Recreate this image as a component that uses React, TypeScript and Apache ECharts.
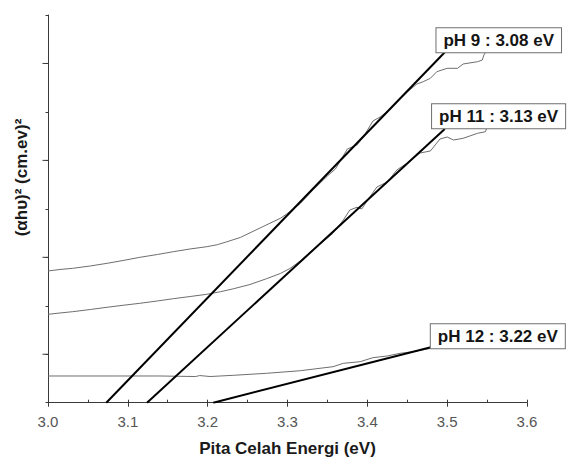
import React, { useEffect, useRef } from 'react';
import * as echarts from 'echarts';

// x axis: photon energy (eV)
const xMin = 3.0;
const xMax = 3.6;
const xInterval = 0.1;

// y axis (no numeric labels in the source)
const yMin = 0;
const yMax = 8;
const yMajorTicks = [1, 3, 5, 7];

// measured Tauc curves
const pH9X = [3.000, 3.015, 3.031, 3.053, 3.074, 3.094, 3.115, 3.137, 3.157, 3.178, 3.199, 3.212, 3.224, 3.241, 3.253, 3.269, 3.291, 3.299, 3.316, 3.332, 3.350, 3.360, 3.375, 3.387, 3.395, 3.407, 3.416, 3.429, 3.441, 3.450, 3.462, 3.470, 3.479, 3.487, 3.500, 3.513, 3.520, 3.538, 3.544, 3.546, 3.550];
const pH9Y = [2.718, 2.749, 2.773, 2.821, 2.876, 2.934, 3.000, 3.058, 3.116, 3.172, 3.219, 3.260, 3.320, 3.410, 3.505, 3.632, 3.805, 3.894, 4.110, 4.389, 4.678, 4.822, 5.235, 5.318, 5.483, 5.813, 5.895, 6.060, 6.267, 6.411, 6.576, 6.624, 6.694, 6.830, 6.900, 6.900, 6.989, 7.036, 7.071, 7.175, 7.278];

const pH11X = [3.000, 3.015, 3.031, 3.053, 3.074, 3.094, 3.115, 3.137, 3.157, 3.178, 3.199, 3.216, 3.232, 3.253, 3.274, 3.291, 3.303, 3.316, 3.328, 3.337, 3.357, 3.370, 3.378, 3.387, 3.393, 3.403, 3.412, 3.425, 3.437, 3.450, 3.466, 3.479, 3.491, 3.500, 3.508, 3.520, 3.538, 3.548, 3.550];
const pH11Y = [1.824, 1.851, 1.878, 1.923, 1.969, 2.010, 2.051, 2.099, 2.146, 2.191, 2.237, 2.290, 2.350, 2.439, 2.560, 2.666, 2.769, 2.924, 3.099, 3.219, 3.496, 3.770, 3.976, 4.032, 3.997, 4.245, 4.451, 4.554, 4.802, 4.946, 5.152, 5.194, 5.441, 5.483, 5.421, 5.456, 5.559, 5.592, 5.689];

const pH12X = [3.000, 3.040, 3.090, 3.140, 3.185, 3.190, 3.203, 3.232, 3.274, 3.316, 3.357, 3.370, 3.391, 3.407, 3.425, 3.441, 3.457, 3.480];
const pH12Y = [0.551, 0.551, 0.551, 0.551, 0.540, 0.560, 0.540, 0.565, 0.607, 0.660, 0.743, 0.813, 0.846, 0.929, 0.964, 1.019, 1.052, 1.123];

// tangent (extrapolation) lines
const tan9X = [3.073, 3.497];
const tan9Y = [0, 7.231];
const tan11X = [3.124, 3.497];
const tan11Y = [0, 5.648];
const tan12X = [3.207, 3.482];
const tan12Y = [0, 1.156];

const bandGapLabels = ['pH 9 : 3.08 eV', 'pH 11 : 3.13 eV', 'pH 12 : 3.22 eV'];

const FONT = '"Liberation Sans", Arial, Helvetica, sans-serif';

const zip = (xs: number[], ys: number[]) => xs.map((x, i) => [x, ys[i]]);

export default function App() {
  const ref = useRef<HTMLDivElement>(null);

  useEffect(() => {
    if (!ref.current) return;
    const chart = echarts.init(ref.current, undefined, { renderer: 'svg' });

    const curveStyle = { color: '#6e6e6e', width: 1 };
    const tanLabel = (text: string, offset: number[]) => ({
      show: true,
      formatter: text,
      align: 'left',
      verticalAlign: 'bottom',
      distance: 0,
      offset,
      backgroundColor: '#ffffff',
      borderColor: '#6f6f6f',
      borderWidth: 1,
      padding: [3, 7, 3, 7],
      fontSize: 17,
      lineHeight: 18,
      fontWeight: 'bold',
      fontFamily: FONT,
      color: '#151515',
    });

    const curve = (name: string, xs: number[], ys: number[]) => ({
      name,
      type: 'line',
      data: zip(xs, ys),
      showSymbol: false,
      symbol: 'none',
      lineStyle: curveStyle,
      z: 2,
      silent: true,
    });

    const tangent = (name: string, xs: number[], ys: number[], label: string, offset: number[]) => ({
      name,
      type: 'line',
      data: zip(xs, ys),
      showSymbol: false,
      symbol: 'none',
      lineStyle: { color: '#000000', width: 2 },
      endLabel: tanLabel(label, offset),
      z: 3,
      silent: true,
    });

    chart.setOption({
      animation: false,
      backgroundColor: '#ffffff',
      grid: {
        left: 48,
        right: 41,
        top: 15,
        bottom: 57.3,
        containLabel: false,
        outerBoundsMode: 'none',
      },
      xAxis: [
        {
          type: 'value',
          min: xMin,
          max: xMax,
          interval: xInterval,
          axisLine: { show: true, lineStyle: { color: '#3a3a3a', width: 1 } },
          axisTick: { show: true, inside: false, length: 4, lineStyle: { color: '#3a3a3a' } },
          axisLabel: {
            show: true,
            margin: 11,
            color: '#555555',
            fontSize: 15,
            fontFamily: FONT,
            formatter: (v: number) => v.toFixed(1),
          },
          splitLine: { show: false },
          name: 'Pita Celah Energi (eV)',
          nameLocation: 'middle',
          nameGap: 37,
          nameTextStyle: { fontSize: 17, fontWeight: 'bold', color: '#1a1a1a', fontFamily: FONT },
        },
        {
          type: 'value',
          position: 'bottom',
          min: xMin,
          max: xMax,
          interval: xInterval / 2,
          axisLine: { show: false },
          axisTick: { show: true, inside: true, length: 3, lineStyle: { color: '#3a3a3a' } },
          axisLabel: { show: false },
          splitLine: { show: false },
        },
      ],
      yAxis: {
        type: 'value',
        min: yMin,
        max: yMax,
        interval: 1,
        axisLine: { show: true, lineStyle: { color: '#3a3a3a', width: 1 } },
        axisTick: { show: true, inside: false, length: 2.5, lineStyle: { color: '#3a3a3a' } },
        axisLabel: { show: false },
        splitLine: { show: false },
      },
      graphic: [
        {
          type: 'text',
          x: 21.5,
          y: 177.5,
          rotation: Math.PI / 2,
          style: {
            text: '(αhυ)² (cm.ev)²',
            font: `bold 17px ${FONT}`,
            fill: '#1a1a1a',
            align: 'center',
            verticalAlign: 'middle',
          },
        },
      ],
      series: [
        {
          name: 'yMajorTicks',
          type: 'custom',
          silent: true,
          clip: false,
          data: yMajorTicks.map((v) => [xMin, v]),
          renderItem: (_params: any, api: any) => {
            const p = api.coord([api.value(0), api.value(1)]);
            return {
              type: 'line',
              shape: { x1: p[0] - 5.5, y1: p[1], x2: p[0], y2: p[1] },
              style: { stroke: '#3a3a3a', lineWidth: 1 },
            };
          },
          z: 1,
        },
        curve('pH 9', pH9X, pH9Y),
        curve('pH 11', pH11X, pH11Y),
        curve('pH 12', pH12X, pH12Y),
        tangent('pH 9 fit', tan9X, tan9Y, bandGapLabels[0], [-8.3, 0]),
        tangent('pH 11 fit', tan11X, tan11Y, bandGapLabels[1], [-12.7, -0.7]),
        tangent('pH 12 fit', tan12X, tan12Y, bandGapLabels[2], [-2, 1.6]),
      ],
    });

    return () => {
      chart.dispose();
    };
  }, []);

  return (
    <div
      ref={ref}
      style={{ position: 'fixed', left: 0, top: 0, width: 568, height: 460, background: '#fff' }}
    />
  );
}
